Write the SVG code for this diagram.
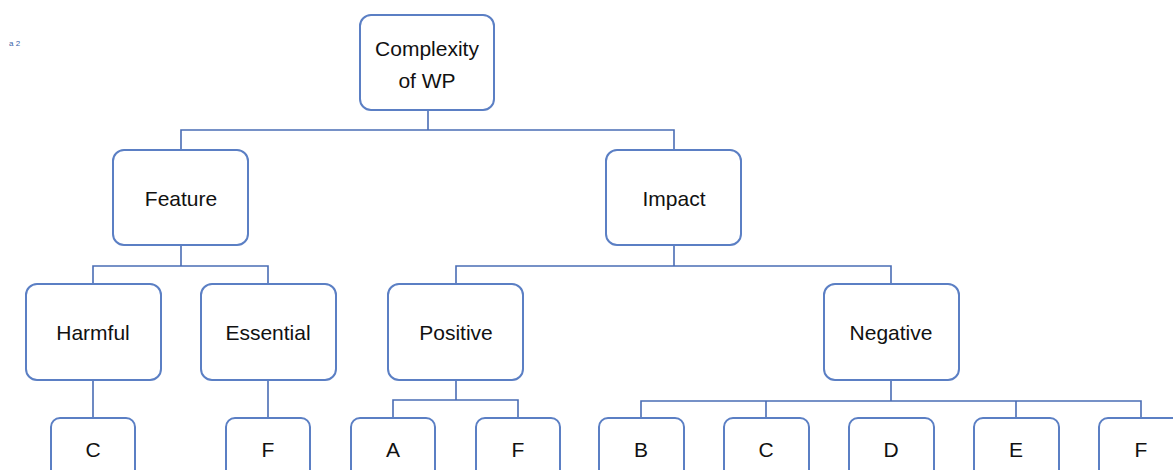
<svg xmlns="http://www.w3.org/2000/svg" width="1173" height="470" viewBox="0 0 1173 470">
<style>
.n{fill:#fff;stroke:#5b7fc4;stroke-width:2}
.t{font-family:"Liberation Sans",Arial,sans-serif;font-size:21px;fill:#111;text-anchor:middle;dominant-baseline:central}
.c{fill:none;stroke:#4a6db5;stroke-width:1.6}
</style>
<rect width="1173" height="470" fill="#fff"/>
<text x="9" y="46" style="font-family:'Liberation Sans',sans-serif;font-size:8px;fill:#3a5fa8">a 2</text>
<g id="connectors">
<path class="c" d="M428,110V130M181,150V130H674V150"/>
<path class="c" d="M181,245V266M93,284V266H268V284"/>
<path class="c" d="M674,245V266M456,284V266H891V284"/>
<path class="c" d="M93,380V418M268,380V418"/>
<path class="c" d="M456,380V400M393,418V400H518V418"/>
<path class="c" d="M891,380V401M641,418V401H1141V418M766,401V418M1016,401V418"/>
</g>
<g id="root"><rect class="n" x="360" y="15" width="134" height="95" rx="11"/><text class="t" x="427" y="48">Complexity</text><text class="t" x="427" y="80">of WP</text></g>
<g id="feature"><rect class="n" x="113" y="150" width="135" height="95" rx="11"/><text class="t" x="181" y="198">Feature</text></g>
<g id="impact"><rect class="n" x="606" y="150" width="135" height="95" rx="11"/><text class="t" x="674" y="198">Impact</text></g>
<g id="harmful"><rect class="n" x="26" y="284" width="135" height="96" rx="11"/><text class="t" x="93" y="332">Harmful</text></g>
<g id="essential"><rect class="n" x="201" y="284" width="135" height="96" rx="11"/><text class="t" x="268" y="332">Essential</text></g>
<g id="positive"><rect class="n" x="388" y="284" width="135" height="96" rx="11"/><text class="t" x="456" y="332">Positive</text></g>
<g id="negative"><rect class="n" x="824" y="284" width="135" height="96" rx="11"/><text class="t" x="891" y="332">Negative</text></g>
<g id="h-c"><rect class="n" x="51" y="418" width="84" height="70" rx="9"/><text class="t" x="93" y="449">C</text></g>
<g id="e-f"><rect class="n" x="226" y="418" width="84" height="70" rx="9"/><text class="t" x="268" y="449">F</text></g>
<g id="p-a"><rect class="n" x="351" y="418" width="84" height="70" rx="9"/><text class="t" x="393" y="449">A</text></g>
<g id="p-f"><rect class="n" x="476" y="418" width="84" height="70" rx="9"/><text class="t" x="518" y="449">F</text></g>
<g id="n-b"><rect class="n" x="599" y="418" width="85" height="70" rx="9"/><text class="t" x="641" y="449">B</text></g>
<g id="n-c"><rect class="n" x="724" y="418" width="85" height="70" rx="9"/><text class="t" x="766" y="449">C</text></g>
<g id="n-d"><rect class="n" x="849" y="418" width="85" height="70" rx="9"/><text class="t" x="891" y="449">D</text></g>
<g id="n-e"><rect class="n" x="974" y="418" width="85" height="70" rx="9"/><text class="t" x="1016" y="449">E</text></g>
<g id="n-f"><rect class="n" x="1099" y="418" width="85" height="70" rx="9"/><text class="t" x="1141" y="449">F</text></g>
</svg>
